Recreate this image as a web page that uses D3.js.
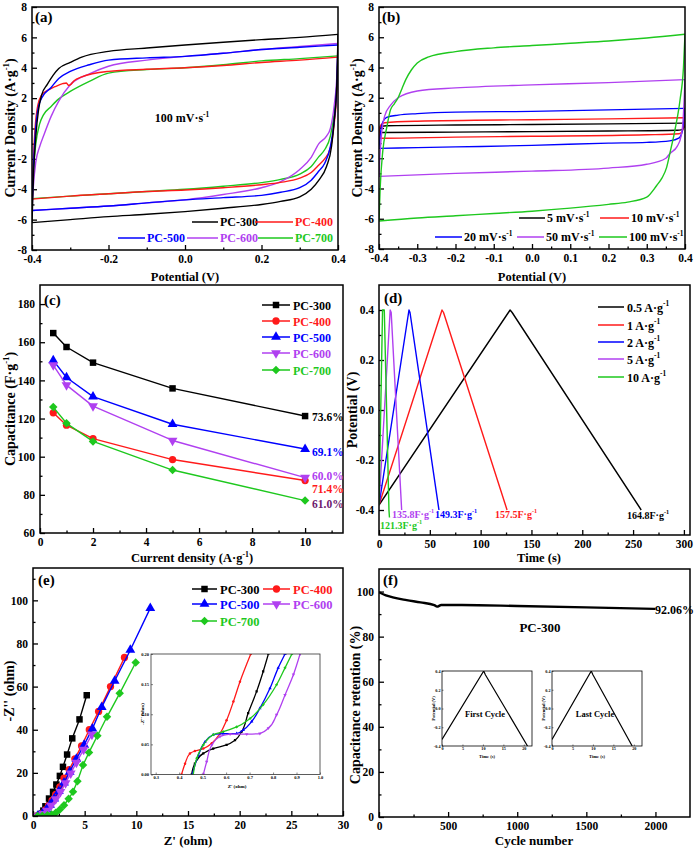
<!DOCTYPE html>
<html><head><meta charset="utf-8">
<script src="https://cdn.jsdelivr.net/npm/d3@7"></script>
<style>
body{margin:0;background:#fff}
svg{display:block}
text{font-family:"Liberation Serif","Times New Roman",serif;font-weight:bold}
</style>
</head><body>
<svg id="chart" width="694" height="851"></svg>
<script>
// ---------------- DATA ----------------
// (a) CV at 100 mV/s, closed loops [potential V, current A/g]
const cvA_PC300 = [[-0.4,-6.2],[-0.396,-3],[-0.39,-0.5],[-0.383,1.2],[-0.375,2.2],[-0.36,2.9],[-0.345,3.5],[-0.33,3.95],[-0.3,4.35],[-0.27,4.7],[-0.2,5.08],[-0.1,5.3],[0,5.5],[0.1,5.68],[0.2,5.85],[0.3,6.0],[0.4,6.2],[0.397,3],[0.39,0.5],[0.383,-1.2],[0.37,-2.5],[0.35,-3.4],[0.33,-4.0],[0.3,-4.5],[0.25,-4.8],[0.2,-5.0],[0.1,-5.25],[0,-5.47],[-0.1,-5.65],[-0.2,-5.8],[-0.3,-6.0],[-0.4,-6.2]];
const cvA_PC400 = [[-0.4,-4.65],[-0.397,-2.5],[-0.392,0],[-0.385,1.5],[-0.375,2.2],[-0.36,2.5],[-0.34,2.75],[-0.32,2.95],[-0.31,3.0],[-0.305,2.85],[-0.3,2.88],[-0.29,3.15],[-0.27,3.4],[-0.2,3.76],[-0.1,3.9],[0,4.0],[0.1,4.15],[0.2,4.35],[0.3,4.5],[0.4,4.7],[0.397,2.5],[0.39,0.3],[0.38,-1.3],[0.365,-2.0],[0.35,-2.4],[0.33,-2.9],[0.3,-3.27],[0.25,-3.55],[0.2,-3.7],[0.1,-3.9],[0,-4.05],[-0.1,-4.15],[-0.2,-4.3],[-0.3,-4.45],[-0.4,-4.65]];
const cvA_PC500 = [[-0.4,-5.4],[-0.397,-3],[-0.392,-0.5],[-0.385,1.2],[-0.375,2.0],[-0.35,2.7],[-0.33,3.3],[-0.3,3.76],[-0.25,4.2],[-0.2,4.5],[-0.1,4.65],[0,4.75],[0.1,4.95],[0.2,5.2],[0.3,5.35],[0.4,5.5],[0.397,3],[0.39,0.5],[0.38,-1.2],[0.365,-2.3],[0.35,-2.8],[0.33,-3.4],[0.3,-3.9],[0.25,-4.2],[0.2,-4.4],[0.1,-4.55],[0,-4.7],[-0.1,-4.9],[-0.2,-5.1],[-0.3,-5.25],[-0.4,-5.4]];
const cvA_PC600 = [[-0.4,-5.4],[-0.397,-4],[-0.39,-2.2],[-0.38,-1.2],[-0.37,-0.5],[-0.35,0.8],[-0.33,1.8],[-0.3,2.88],[-0.25,3.6],[-0.2,4.1],[-0.1,4.5],[0,4.75],[0.1,4.95],[0.2,5.2],[0.3,5.4],[0.4,5.6],[0.397,3.5],[0.39,1.5],[0.38,0],[0.37,-0.5],[0.35,-1.0],[0.33,-1.9],[0.3,-2.7],[0.25,-3.5],[0.2,-3.9],[0.1,-4.35],[0,-4.7],[-0.1,-4.9],[-0.2,-5.1],[-0.3,-5.25],[-0.4,-5.4]];
const cvA_PC700 = [[-0.4,-4.62],[-0.397,-3],[-0.39,-1],[-0.38,0.3],[-0.37,0.9],[-0.35,1.45],[-0.33,1.95],[-0.3,2.44],[-0.25,3.1],[-0.2,3.65],[-0.1,3.88],[0,4.0],[0.1,4.2],[0.2,4.45],[0.3,4.6],[0.4,4.78],[0.397,3],[0.39,1.0],[0.38,-0.5],[0.365,-1.4],[0.35,-1.85],[0.33,-2.5],[0.3,-3.0],[0.25,-3.35],[0.2,-3.56],[0.1,-3.8],[0,-4.0],[-0.1,-4.15],[-0.2,-4.3],[-0.3,-4.45],[-0.4,-4.62]];
const cvA_labels = ["PC-300","PC-400","PC-500","PC-600","PC-700"];

// (b) CV of PC-300 at different scan rates
const cvB_5 = [[-0.4,-0.05],[-0.395,0.1],[-0.38,0.15],[-0.2,0.2],[0,0.23],[0.2,0.27],[0.4,0.32],[0.398,0.05],[0.39,-0.12],[0.38,-0.15],[0.2,-0.2],[0,-0.24],[-0.2,-0.27],[-0.39,-0.3],[-0.398,-0.3],[-0.4,-0.05]];
const cvB_10 = [[-0.4,-0.1],[-0.395,0.2],[-0.385,0.35],[-0.3,0.45],[0,0.55],[0.2,0.6],[0.4,0.68],[0.398,0.2],[0.393,-0.2],[0.385,-0.38],[0.3,-0.45],[0,-0.55],[-0.2,-0.6],[-0.39,-0.68],[-0.398,-0.66],[-0.4,-0.1]];
const cvB_20 = [[-0.4,-1.35],[-0.397,-0.5],[-0.39,0.4],[-0.38,0.7],[-0.35,0.85],[-0.3,0.95],[-0.2,1.05],[0,1.1],[0.2,1.2],[0.4,1.3],[0.398,0.8],[0.393,-0.2],[0.385,-0.65],[0.36,-0.85],[0.3,-0.95],[0.2,-1.0],[0,-1.15],[-0.2,-1.25],[-0.3,-1.3],[-0.4,-1.35]];
const cvB_50 = [[-0.4,-3.2],[-0.398,-2],[-0.393,-0.3],[-0.385,0.8],[-0.37,1.5],[-0.35,2.0],[-0.3,2.45],[-0.2,2.65],[0,2.85],[0.2,3.0],[0.3,3.1],[0.4,3.2],[0.398,2],[0.395,0.5],[0.39,-0.5],[0.38,-1.2],[0.36,-1.7],[0.35,-2.0],[0.3,-2.4],[0.2,-2.65],[0,-2.85],[-0.2,-3.0],[-0.3,-3.1],[-0.4,-3.2]];
const cvB_100 = [[-0.4,-6.15],[-0.397,-4],[-0.39,-1.5],[-0.38,0],[-0.37,1.2],[-0.36,1.6],[-0.35,2.0],[-0.34,2.6],[-0.33,3.2],[-0.315,3.85],[-0.3,4.3],[-0.27,4.7],[-0.2,5.05],[-0.1,5.3],[0,5.45],[0.1,5.6],[0.2,5.75],[0.3,5.95],[0.4,6.2],[0.396,4.0],[0.387,1.85],[0.374,-0.1],[0.362,-1.5],[0.352,-2.6],[0.34,-3.3],[0.326,-3.8],[0.3,-4.57],[0.25,-4.9],[0.2,-5.05],[0.1,-5.3],[0,-5.5],[-0.1,-5.65],[-0.2,-5.8],[-0.3,-5.95],[-0.4,-6.15]];
const cvB_labels = ["5 mV·s^{-1}","10 mV·s^{-1}","20 mV·s^{-1}","50 mV·s^{-1}","100 mV·s^{-1}"];

// (c) rate capability
const currentDensity = [0.5, 1, 2, 5, 10];
const capPC300 = [164.8, 157.5, 149.3, 135.8, 121.3];
const capPC400 = [123, 116.5, 109.5, 98.5, 87.5];
const capPC500 = [150.5, 141.5, 131.5, 117, 104];
const capPC600 = [148, 137.5, 126.5, 108.5, 89];
const capPC700 = [126, 117.5, 108, 93, 77];
const retentionLabels = ["73.6%","69.1%","60.0%","71.4%","61.0%"];

// (d) GCD curves [time s, potential V]
const gcd05 = [[0,-0.38],[129,0.4],[131,0.39],[258,-0.4]];
const gcd1 = [[0,-0.38],[62,0.4],[63.5,0.39],[126,-0.4]];
const gcd2 = [[0,-0.38],[29.5,0.4],[30.5,0.39],[59,-0.4]];
const gcd5 = [[0,-0.38],[11,0.4],[12,0.39],[22.3,-0.4]];
const gcd10 = [[0,-0.38],[3.5,0.4],[5.2,0.4],[9.8,-0.4],[10.3,-0.43]];
const gcdLegend = ["0.5 A·g^{-1}","1 A·g^{-1}","2 A·g^{-1}","5 A·g^{-1}","10 A·g^{-1}"];
const gcdCapLabels = ["164.8F·g^{-1}","157.5F·g^{-1}","149.3F·g^{-1}","135.8F·g^{-1}","121.3F·g^{-1}"];

// (e) Nyquist plots [Z' ohm, -Z'' ohm]
const eisPC300 = [[0.4,0],[0.6,0.2],[0.8,1.0],[1.0,2.5],[1.2,4.5],[1.55,8.1],[1.94,11.2],[2.26,14.6],[2.6,18.6],[2.9,22.8],[3.3,28.5],[3.8,36],[4.5,44.8],[5.2,56]];
const eisPC400 = [[0.4,0],[0.6,0.3],[0.9,1.2],[1.2,2.8],[1.5,4.8],[1.85,7.2],[2.2,10],[2.6,13.5],[3.0,17.5],[3.5,21.5],[4.05,26.5],[4.7,32.5],[5.45,40],[6.35,48.5],[7.5,60],[8.85,73.5]];
const eisPC500 = [[0.44,0],[0.65,0.3],[0.95,1.3],[1.3,3],[1.65,5.2],[2.05,8],[2.5,11.5],[3.0,15.5],[3.55,20.5],[4.2,26.5],[4.95,33],[5.75,40.5],[6.65,50.5],[7.9,62.6],[9.42,77],[11.35,96.4]];
const eisPC600 = [[0.49,0],[0.7,0.3],[1.0,1.0],[1.35,2.5],[1.75,4.8],[2.2,7.8],[2.65,11.2],[3.15,15.3],[3.65,19.8],[4.2,24.8],[4.9,30.8],[5.7,37.8]];
const eisPC700 = [[0.45,0],[0.9,0.1],[1.4,0.3],[1.8,0.7],[2.2,1.5],[2.6,3],[3.0,5],[3.45,8],[3.87,11.2],[4.3,16.1],[4.84,23.6],[5.42,29.5],[6.23,37.2],[7.16,46],[8.39,56.9],[9.94,71.2]];
// (e) inset, high-frequency region
const eisInPC300 = [[0.453,0],[0.467,0.018],[0.503,0.035],[0.545,0.043],[0.602,0.049],[0.638,0.057],[0.666,0.071],[0.694,0.102],[0.730,0.138],[0.758,0.171],[0.780,0.2]];
const eisInPC400 = [[0.41,0],[0.425,0.018],[0.446,0.035],[0.467,0.039],[0.503,0.043],[0.539,0.052],[0.574,0.068],[0.602,0.09],[0.631,0.121],[0.659,0.154],[0.705,0.2]];
const eisInPC500 = [[0.456,0],[0.482,0.032],[0.510,0.054],[0.545,0.066],[0.588,0.068],[0.645,0.068],[0.673,0.074],[0.709,0.088],[0.744,0.11],[0.787,0.143],[0.822,0.177],[0.851,0.2]];
const eisInPC600 = [[0.503,0],[0.517,0.021],[0.539,0.049],[0.574,0.063],[0.617,0.067],[0.688,0.067],[0.744,0.068],[0.780,0.077],[0.815,0.099],[0.851,0.132],[0.887,0.166],[0.915,0.2]];
const eisInPC700 = [[0.460,0],[0.475,0.027],[0.503,0.049],[0.545,0.066],[0.588,0.071],[0.645,0.079],[0.702,0.093],[0.758,0.116],[0.815,0.149],[0.851,0.177],[0.880,0.2]];

// (f) cycling stability
const cycleRetention = [[0,99.7],[50,98.3],[100,97.4],[200,96.2],[300,95.2],[400,94.0],[420,93.3],[450,94.0],[600,94.0],[1000,93.6],[1500,93.0],[2000,92.3]];
const firstCycle = [[0,-0.33],[10.2,0.4],[10.6,0.36],[20.9,-0.4]];
const lastCycle = [[0,-0.33],[9.6,0.4],[10.0,0.36],[19.6,-0.4]];

// ---------------- DRAWING ----------------
const C = {black:"#000000", red:"#ff1a1a", blue:"#0000ff", purple:"#b040f0", green:"#1ec81e", dark:"#6e1a6e"};
const svg = d3.select("#chart");

const fmt = s => { const f = d3.format(s); return d => f(d).replace("\u2212","-"); };

function rich(t, str, fs){
  const parts = str.split(/(\^\{[^}]*\})/);
  let back = 0;
  parts.forEach(p => {
    if (!p) return;
    const m = p.match(/^\^\{([^}]*)\}$/);
    if (m){ t.append("tspan").attr("dy", -fs*0.42).attr("font-size", fs*0.62).text(m[1]); back = fs*0.42; }
    else { t.append("tspan").attr("dy", back).text(p); back = 0; }
  });
}
function label(x, y, str, fs, o = {}){
  const t = svg.append("text").attr("x", x).attr("y", y).attr("font-size", fs)
    .attr("fill", o.fill || "#000").attr("text-anchor", o.anchor || "start");
  if (o.rot) t.attr("transform", `rotate(-90,${x},${y})`);
  rich(t, str, fs);
  return t;
}

let clipN = 0;
function panel(o){
  const x = d3.scaleLinear().domain(o.xd).range([o.L, o.R]);
  const y = d3.scaleLinear().domain(o.yd).range([o.B, o.T]);
  const tl = o.tl ?? 5, tm = o.tm ?? 2.5, fs = o.fs ?? 11.5, sw = o.sw ?? 1.3;
  const cid = "clip" + (clipN++);
  svg.append("clipPath").attr("id", cid).append("rect")
    .attr("x", o.L).attr("y", o.T).attr("width", o.R - o.L).attr("height", o.B - o.T);
  const style = g => { g.select(".domain").remove(); g.attr("font-family", null).attr("font-size", fs);
    g.selectAll("line").attr("stroke-width", sw).attr("stroke", o.stroke || "#000"); };
  svg.append("g").attr("transform", `translate(0,${o.B})`)
    .call(d3.axisBottom(x).tickValues(o.xt).tickSize(-tl).tickPadding(o.xp ?? 5).tickFormat(o.xf)).call(style);
  if (o.xm) svg.append("g").attr("transform", `translate(0,${o.B})`)
    .call(d3.axisBottom(x).tickValues(o.xm).tickSize(-tm).tickFormat("")).call(style);
  svg.append("g").attr("transform", `translate(${o.L},0)`)
    .call(d3.axisLeft(y).tickValues(o.yt).tickSize(-tl).tickPadding(o.yp ?? 5).tickFormat(o.yf)).call(style);
  if (o.ym) svg.append("g").attr("transform", `translate(${o.L},0)`)
    .call(d3.axisLeft(y).tickValues(o.ym).tickSize(-tm).tickFormat("")).call(style);
  const plot = svg.append("g").attr("clip-path", `url(#${cid})`);
  svg.append("rect").attr("x", o.L).attr("y", o.T).attr("width", o.R - o.L).attr("height", o.B - o.T)
    .attr("fill", "none").attr("stroke", o.stroke || "#000").attr("stroke-width", o.fw ?? 1.5);
  return {x, y, plot};
}
function line(p, data, color, curve = d3.curveLinear, w = 1.5){
  p.plot.append("path").datum(data)
    .attr("d", d3.line().x(d => p.x(d[0])).y(d => p.y(d[1])).curve(curve))
    .attr("fill", "none").attr("stroke", color).attr("stroke-width", w).attr("stroke-linejoin", "round");
}
// CV loop: split at the vertex potential into forward and reverse branches, each smooth in x
function cvLoop(p, loop, color, w){
  let k = 0;
  loop.forEach((d,i) => { if (d[0] > loop[k][0]) k = i; });
  const fwd = loop.slice(0, k+1);
  const rev = loop.slice(k).reverse();
  line(p, fwd, color, d3.curveMonotoneX, w);
  line(p, rev, color, d3.curveMonotoneX, w);
}
const SYM = {
  sq: {t: d3.symbolSquare, r: 0}, ci: {t: d3.symbolCircle, r: 0},
  tu: {t: d3.symbolTriangle, r: 0}, td: {t: d3.symbolTriangle, r: 180}, di: {t: d3.symbolSquare, r: 45}
};
function markers(g, pts, color, sym, size){
  const s = SYM[sym];
  g.selectAll(null).data(pts).enter().append("path")
    .attr("d", d3.symbol().type(s.t).size(size))
    .attr("transform", d => `translate(${d[0]},${d[1]}) rotate(${s.r})`)
    .attr("fill", color);
}

// ===== (a) =====
const pA = panel({L:32, R:338, T:7, B:250, xd:[-0.4,0.4], yd:[-8,8],
  xt:[-0.4,-0.2,0,0.2,0.4], xm:[-0.3,-0.1,0.1,0.3], xf:fmt(".1f"),
  yt:d3.range(-8,9,2), ym:d3.range(-7,8,2), yf:fmt("d")});
const cvA = [cvA_PC300, cvA_PC400, cvA_PC500, cvA_PC600, cvA_PC700];
const colA = [C.black, C.red, C.blue, C.purple, C.green];
[4,3,1,2,0].forEach(i => cvLoop(pA, cvA[i], colA[i], 1.4));
label(185, 281, "Potential (V)", 12.5, {anchor:"middle"});
label(15, 128, "Current Density (A·g^{-1})", 14, {anchor:"middle", rot:true});
label(35, 22, "(a)", 15);
label(182, 122, "100 mV·s^{-1}", 12, {anchor:"middle"});
[[0,192,218,222],[1,255,293,222],[2,118,145,238],[3,187,218,238],[4,258,293,238]].forEach(([i,x1,x2,yy]) => {
  svg.append("line").attr("x1",x1).attr("x2",x2).attr("y1",yy).attr("y2",yy).attr("stroke",colA[i]).attr("stroke-width",1.5);
  label(x2+2, yy+4, cvA_labels[i], 12, {fill: colA[i]});
});

// ===== (b) =====
const pB = panel({L:379, R:685, T:7, B:249, xd:[-0.4,0.4], yd:[-8,8],
  xt:d3.range(-4,5).map(v => v/10), xm:d3.range(-3.5,4,1).map(v => v/10), xf:fmt(".1f"),
  yt:d3.range(-8,9,2), ym:d3.range(-7,8,2), yf:fmt("d")});
const cvB = [cvB_5, cvB_10, cvB_20, cvB_50, cvB_100];
const colB = [C.black, C.red, C.blue, C.purple, C.green];
cvB.forEach((d,i) => cvLoop(pB, d, colB[i], 1.4));
label(532, 281, "Potential (V)", 12.5, {anchor:"middle"});
label(362, 128, "Current Density (A·g^{-1})", 14, {anchor:"middle", rot:true});
label(382, 22, "(b)", 15);
[[0,519,545,218],[1,600,629,218],[2,435,462,237],[3,517,544,237],[4,599,627,237]].forEach(([i,x1,x2,yy]) => {
  svg.append("line").attr("x1",x1).attr("x2",x2).attr("y1",yy).attr("y2",yy).attr("stroke",colB[i]).attr("stroke-width",1.5);
  label(x2+2, yy+4, cvB_labels[i], 12);
});

// ===== (c) =====
const pC = panel({L:40, R:343, T:285, B:533, xd:[0,11.43], yd:[60,190],
  xt:d3.range(0,11,2), xm:d3.range(1,12,2), xf:fmt("d"),
  yt:d3.range(60,181,20), ym:d3.range(70,190,20), yf:fmt("d")});
const capSeries = [capPC300, capPC400, capPC500, capPC600, capPC700];
const colC = [C.black, C.red, C.blue, C.purple, C.green];
const symC = ["sq","ci","tu","td","di"];
const sizeC = [42, 42, 42, 42, 36];
capSeries.forEach((s,i) => {
  const pts = currentDensity.map((c,k) => [c, s[k]]);
  line(pC, pts, colC[i], d3.curveLinear, 1.4);
  markers(pC.plot, pts.map(d => [pC.x(d[0]), pC.y(d[1])]), colC[i], symC[i], sizeC[i]);
});
label(192, 562, "Current density (A·g^{-1})", 12.5, {anchor:"middle"});
label(15, 409, "Capacitance (F·g^{-1})", 14, {anchor:"middle", rot:true});
label(44, 305, "(c)", 15);
const legCY = [305, 321, 337, 353, 370];
const legCLab = ["PC-300","PC-400","PC-500","PC-600","PC-700"];
legCY.forEach((yy,i) => {
  svg.append("line").attr("x1",262).attr("x2",290).attr("y1",yy).attr("y2",yy).attr("stroke",colC[i]).attr("stroke-width",1.5);
  markers(svg, [[276,yy]], colC[i], symC[i], sizeC[i]);
  label(293, yy+4.5, legCLab[i], 12, {fill: colC[i]});
});
const pctY = [416.7, 451.7, 476, 488.3, 503.3];
const pctCol = [C.black, C.blue, C.purple, C.red, C.dark];
retentionLabels.forEach((t,i) => label(312, pctY[i]+4.2, t, 11.5, {fill: pctCol[i]}));

// ===== (d) =====
const pD = panel({L:379, R:690, T:285, B:535, xd:[0,306], yd:[-0.5,0.5],
  xt:d3.range(0,301,50), xm:d3.range(25,300,50), xf:fmt("d"),
  yt:[-0.4,-0.2,0,0.2,0.4], ym:[-0.3,-0.1,0.1,0.3], yf:fmt(".1f")});
const gcd = [gcd05, gcd1, gcd2, gcd5, gcd10];
const colD = [C.black, C.red, C.blue, C.purple, C.green];
gcd.forEach((d,i) => line(pD, d, colD[i], d3.curveLinear, 1.4));
label(539, 562, "Time (s)", 12.5, {anchor:"middle"});
label(357, 410, "Potential (V)", 14, {anchor:"middle", rot:true});
label(384, 303, "(d)", 15);
const legDY = [307, 325, 342, 359, 377];
legDY.forEach((yy,i) => {
  svg.append("line").attr("x1",598).attr("x2",624).attr("y1",yy).attr("y2",yy).attr("stroke",colD[i]).attr("stroke-width",1.5);
  label(627, yy+4.5, gcdLegend[i], 12);
});
const capLabPos = [[627,515],[495,514],[435,514],[392,514],[380,525]];
gcdCapLabels.forEach((t,i) => label(capLabPos[i][0], capLabPos[i][1]+3.5, t, 10, {fill: colD[i]}));

// ===== (e) =====
const pE = panel({L:33, R:343, T:568, B:816, xd:[0,30], yd:[0,115],
  xt:d3.range(0,31,5), xm:d3.range(2.5,30,5), xf:fmt("d"),
  yt:d3.range(0,101,20), ym:d3.range(10,115,20), yf:fmt("d")});
const eis = [eisPC300, eisPC400, eisPC500, eisPC600, eisPC700];
const colE = [C.black, C.red, C.blue, C.purple, C.green];
eis.forEach((d,i) => {
  line(pE, d, colE[i], d3.curveLinear, 1.4);
  markers(pE.plot, d.map(p => [pE.x(p[0]), pE.y(p[1])]), colE[i], symC[i], sizeC[i]);
});
label(188, 845, "Z' (ohm)", 13, {anchor:"middle"});
label(14, 691, "-Z'' (ohm)", 14, {anchor:"middle", rot:true});
label(38, 585, "(e)", 15);
[[0,192,217,589],[1,263,290,589],[2,192,217,604],[3,263,290,604],[4,192,217,621]].forEach(([i,x1,x2,yy]) => {
  svg.append("line").attr("x1",x1).attr("x2",x2).attr("y1",yy).attr("y2",yy).attr("stroke",colE[i]).attr("stroke-width",1.5);
  markers(svg, [[(x1+x2)/2, yy]], colE[i], symC[i], sizeC[i]);
  label(x2+3, yy+4.5, legCLab[i], 12.5, {fill: colE[i]});
});
// inset (e)
const pEi = panel({L:151, R:320, T:654, B:774.5, xd:[0.28,1.0], yd:[0,0.2],
  xt:d3.range(3,11).map(v => v/10), xf:fmt(".1f"), yt:[0,0.05,0.1,0.15,0.2], yf:fmt(".2f"),
  tl:2, fs:4.5, sw:0.6, fw:0.8, xp:1.5, yp:2, stroke:"#333"});
const eisIn = [eisInPC300, eisInPC400, eisInPC500, eisInPC600, eisInPC700];
eisIn.forEach((d,i) => {
  line(pEi, d, colE[i], d3.curveMonotoneY, 1.3);
  markers(pEi.plot, d.map(p => [pEi.x(p[0]), pEi.y(p[1])]), colE[i], symC[i], 5);
});
label(237, 788, "Z' (ohm)", 5, {anchor:"middle"});
label(144, 714, "-Z'' (ohm)", 5, {anchor:"middle", rot:true});

// ===== (f) =====
const pF = panel({L:379, R:690, T:569, B:817, xd:[0,2250], yd:[0,110],
  xt:d3.range(0,2001,500), xm:[250,750,1250,1750], xf:fmt("d"),
  yt:d3.range(0,101,20), ym:d3.range(10,100,20), yf:fmt("d")});
line(pF, cycleRetention, C.black, d3.curveMonotoneX, 2.4);
label(534, 845, "Cycle number", 13, {anchor:"middle"});
label(360, 705, "Capacitance retention (%)", 14, {anchor:"middle", rot:true});
label(383, 585, "(f)", 15);
label(655, 614, "92.06%", 12);
label(540, 631.5, "PC-300", 13, {anchor:"middle"});
[[442, firstCycle, "First Cycle"], [552, lastCycle, "Last Cycle"]].forEach(([L, data, name]) => {
  const p = panel({L:L, R:L+90, T:671, B:746, xd:[0,22], yd:[-0.4,0.4],
    xt:[0,5,10,15,20], xf:fmt("d"), yt:[-0.4,-0.2,0,0.2,0.4], yf:fmt(".1f"),
    tl:1.5, fs:4.2, sw:0.5, fw:0.8, xp:1.5, yp:1.5});
  line(p, data, C.black, d3.curveLinear, 1.2);
  label(L+45, 757.5, "Time (s)", 4.5, {anchor:"middle"});
  label(L-7.5, 708.5, "Potential (V)", 4.5, {anchor:"middle", rot:true});
  label(L+43, 717, name, 8.5, {anchor:"middle"});
});
</script>
</body></html>
